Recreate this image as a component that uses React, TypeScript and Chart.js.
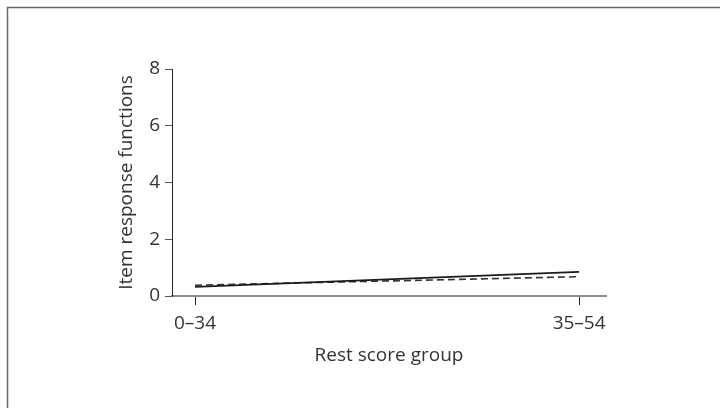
import React, { useEffect, useRef } from "react";
import { Chart, registerables } from "chart.js";

Chart.register(...registerables);

const categories = ["0–34", "35–54"];
const xPositions = [0, 1];
const solidSeries = [0.32, 0.85];
const dashedSeries = [0.38, 0.68];
const yTicks = [0, 2, 4, 6, 8];

const FONT = "'Open Sans', 'Noto Sans', sans-serif";
const TEXT = "#333333";
const FS = 19;

const framePlugin = {
  id: "frame",
  beforeDraw(chart: any) {
    const ctx = chart.ctx;
    ctx.save();
    ctx.fillStyle = "#ffffff";
    ctx.fillRect(0, 0, chart.width, chart.height);
    ctx.strokeStyle = "#666666";
    ctx.lineWidth = 1.5;
    ctx.beginPath();
    ctx.moveTo(7.5, chart.height + 5);
    ctx.lineTo(7.5, 7.5);
    ctx.lineTo(chart.width + 5, 7.5);
    ctx.stroke();
    ctx.restore();
  },
};

export default function App() {
  const ref = useRef<HTMLCanvasElement | null>(null);

  useEffect(() => {
    if (!ref.current) return;
    const chart = new Chart(ref.current, {
      type: "line",
      data: {
        datasets: [
          {
            label: "solid",
            data: xPositions.map((x, i) => ({ x, y: solidSeries[i] })),
            borderColor: "#1a1a1a",
            borderWidth: 1.6,
            pointRadius: 0,
            fill: false,
            tension: 0,
          },
          {
            label: "dashed",
            data: xPositions.map((x, i) => ({ x, y: dashedSeries[i] })),
            borderColor: "#333333",
            borderWidth: 1.6,
            borderDash: [7, 4],
            pointRadius: 0,
            fill: false,
            tension: 0,
          },
        ],
      },
      options: {
        responsive: false,
        animation: false,
        layout: { padding: { left: 111, right: 114, top: 69, bottom: 37 } },
        plugins: {
          legend: { display: false },
          tooltip: { enabled: false },
        },
        scales: {
          x: {
            type: "linear",
            min: -0.06,
            max: 1.07,
            afterBuildTicks: (s: any) => {
              s.ticks = xPositions.map((v) => ({ value: v }));
            },
            afterFit: (s: any) => {
              s.height = 408 - 296 - 37;
            },
            ticks: {
              callback: (v: any) => categories[xPositions.indexOf(Number(v))] ?? "",
              font: { family: FONT, size: FS },
              color: TEXT,
              padding: 7,
              maxRotation: 0,
            },
            grid: {
              drawOnChartArea: false,
              drawTicks: true,
              tickLength: 9,
              color: "#222222",
              lineWidth: 1,
            },
            border: { display: true, color: "#8c8c8c", width: 2 },
            title: {
              display: true,
              text: "Rest score group",
              font: { family: FONT, size: FS },
              color: TEXT,
            },
          },
          y: {
            type: "linear",
            min: 0,
            max: 8,
            afterBuildTicks: (s: any) => {
              s.ticks = yTicks.map((v) => ({ value: v }));
            },
            afterFit: (s: any) => {
              s.width = 172 - 111;
            },
            ticks: {
              font: { family: FONT, size: FS },
              color: TEXT,
              padding: 5,
            },
            grid: {
              drawOnChartArea: false,
              drawTicks: true,
              tickLength: 7,
              color: "#555555",
              lineWidth: 1,
            },
            border: { display: true, color: "#222222", width: 1 },
            title: {
              display: true,
              text: "Item response functions",
              font: { family: FONT, size: FS },
              color: TEXT,
            },
          },
        },
      },
      plugins: [framePlugin],
    });
    return () => chart.destroy();
  }, []);

  return (
    <div style={{ position: "fixed", left: 0, top: 0, width: 720, height: 408 }}>
      <canvas ref={ref} width={720} height={408} style={{ display: "block" }} />
    </div>
  );
}
